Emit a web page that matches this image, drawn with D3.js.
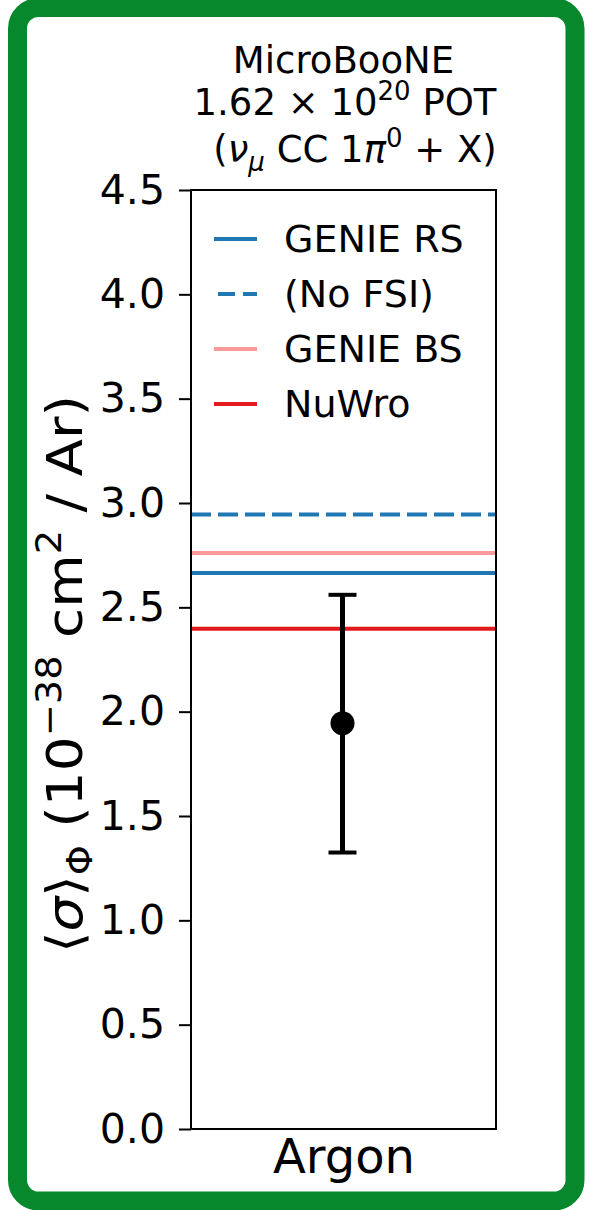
<!DOCTYPE html>
<html>
<head>
<meta charset="utf-8">
<script src="https://cdn.jsdelivr.net/npm/d3@7"></script>
<style>
  html, body { margin: 0; padding: 0; background: #ffffff; }
  svg { display: block; font-family: "DejaVu Sans", sans-serif; }
</style>
</head>
<body>
<svg id="chart" width="589" height="1210"></svg>
<script>
// ---- data ----
const categories = ["Argon"];
const modelNames = ["GENIE RS", "(No FSI)", "GENIE BS", "NuWro"];
const modelValues = [2.665, 2.945, 2.76, 2.397];
const modelColors = ["#1f78b4", "#1f78b4", "#fb9a99", "#e31a1c"];
const modelDashed = [false, true, false, false];
const measured = [1.945];
const measuredLow = [1.325];
const measuredHigh = [2.56];
const yTicks = [0.0, 0.5, 1.0, 1.5, 2.0, 2.5, 3.0, 3.5, 4.0, 4.5];

(function () {
const svg = d3.select("#chart");

// frame
svg.append("rect")
  .attr("x", 17.5).attr("y", 7.5)
  .attr("width", 557.5).attr("height", 1193.5)
  .attr("rx", 21).attr("ry", 21)
  .attr("fill", "#ffffff")
  .attr("stroke", "#07882c").attr("stroke-width", 19);

// stray glyph from neighbouring panel
svg.append("text").attr("x", -14).attr("y", 166)
  .attr("font-size", 40).attr("fill", "#000").text(")");

const pL = 191, pR = 496, pT = 190, pB = 1129;
const y = d3.scaleLinear().domain([0, 4.5]).range([pB, pT]);
const x = d3.scalePoint().domain(categories).range([pL, pR]).padding(0.5);

// model lines
const g = svg.append("g");
modelNames.forEach((n, i) => {
  g.append("line")
    .attr("x1", pL).attr("x2", pR)
    .attr("y1", y(modelValues[i])).attr("y2", y(modelValues[i]))
    .attr("stroke", modelColors[i]).attr("stroke-width", 4)
    .attr("stroke-dasharray", modelDashed[i] ? "20,7" : null);
});

// measurement with error bar
categories.forEach((c, i) => {
  const cx = x(c) - 1;
  g.append("line").attr("x1", cx).attr("x2", cx)
    .attr("y1", y(measuredLow[i])).attr("y2", y(measuredHigh[i]))
    .attr("stroke", "#000").attr("stroke-width", 5);
  [measuredLow[i], measuredHigh[i]].forEach(v => {
    g.append("line").attr("x1", cx - 14).attr("x2", cx + 14)
      .attr("y1", y(v)).attr("y2", y(v))
      .attr("stroke", "#000").attr("stroke-width", 4);
  });
  g.append("circle").attr("cx", cx).attr("cy", y(measured[i])).attr("r", 12).attr("fill", "#000");
});

// axes frame
svg.append("rect").attr("x", pL).attr("y", pT)
  .attr("width", pR - pL).attr("height", pB - pT)
  .attr("fill", "none").attr("stroke", "#000").attr("stroke-width", 2);

// y axis
const yAxis = svg.append("g").attr("transform", `translate(${pL},0)`)
  .call(d3.axisLeft(y).tickValues(yTicks).tickFormat(d3.format(".1f")).tickSize(12).tickPadding(14));
yAxis.select(".domain").remove();
yAxis.selectAll(".tick line").attr("stroke", "#000").attr("stroke-width", 2);
yAxis.selectAll(".tick text").attr("font-size", 41).attr("font-family", "DejaVu Sans").attr("fill", "#000");

// x axis (labels only)
const xAxis = svg.append("g").attr("transform", `translate(0,${pB})`)
  .call(d3.axisBottom(x).tickSize(0).tickPadding(10));
xAxis.select(".domain").remove();
xAxis.selectAll(".tick text").attr("font-size", 48).attr("font-family", "DejaVu Sans")
  .attr("fill", "#000").attr("dy", "0.71em");

// title
const title = svg.append("g").attr("font-size", 37).attr("fill", "#000");
title.append("text").attr("x", 343.5).attr("y", 73).attr("text-anchor", "middle").text("MicroBooNE");
const t2 = title.append("text").attr("x", 345).attr("y", 115).attr("text-anchor", "middle");
t2.append("tspan").text("1.62 × 10");
t2.append("tspan").attr("font-size", 26).attr("dy", -15).text("20");
t2.append("tspan").attr("dy", 15).text(" POT");
const t3 = title.append("text").attr("x", 355).attr("y", 162).attr("text-anchor", "middle");
t3.append("tspan").text("(");
t3.append("tspan").attr("font-style", "italic").text("ν");
t3.append("tspan").attr("font-style", "italic").attr("font-size", 26).attr("dy", 9).text("μ");
t3.append("tspan").attr("dy", -9).text(" CC 1");
t3.append("tspan").attr("font-style", "italic").text("π");
t3.append("tspan").attr("font-size", 26).attr("dy", -15).text("0");
t3.append("tspan").attr("dy", 15).text(" + X)");

// y label
const yl = svg.append("text")
  .attr("transform", "translate(82,674) rotate(-90)")
  .attr("text-anchor", "middle").attr("font-size", 50).attr("fill", "#000")
  .attr("textLength", 558).attr("lengthAdjust", "spacingAndGlyphs");
yl.append("tspan").text("⟨");
yl.append("tspan").attr("font-style", "italic").text("σ");
yl.append("tspan").text("⟩");
yl.append("tspan").attr("font-size", 35).attr("dy", 10).text("Φ");
yl.append("tspan").attr("dy", -10).text(" (10");
yl.append("tspan").attr("font-size", 35).attr("dy", -21).text("−38");
yl.append("tspan").attr("dy", 21).text(" cm");
yl.append("tspan").attr("font-size", 35).attr("dy", -21).text("2");
yl.append("tspan").attr("dy", 21).text(" / Ar)");

// legend
const lg = svg.append("g");
modelNames.forEach((n, i) => {
  const ly = 239 + i * 55;
  lg.append("line").attr("x1", 214).attr("x2", 257).attr("y1", ly).attr("y2", ly)
    .attr("stroke", modelColors[i]).attr("stroke-width", 4)
    .attr("stroke-dasharray", modelDashed[i] ? "17,8" : null)
    .attr("stroke-dashoffset", modelDashed[i] ? -4 : null);
  lg.append("text").attr("x", 284).attr("y", ly + 13).attr("font-size", 38)
    .attr("fill", "#000").text(n);
});
})();
</script>
</body>
</html>
